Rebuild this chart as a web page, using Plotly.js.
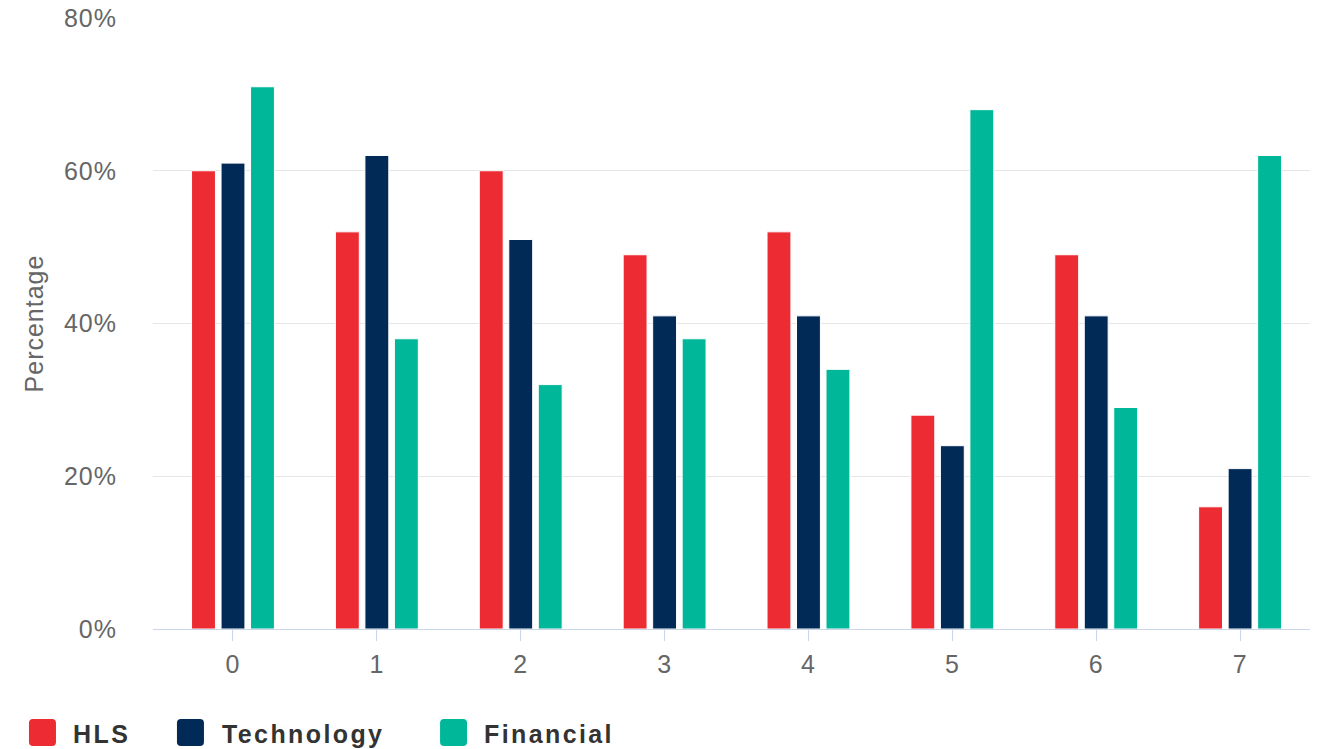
<!DOCTYPE html>
<html>
<head>
<meta charset="utf-8">
<script src="https://cdn.plot.ly/plotly-3.0.1.min.js"></script>
<style>
html,body{margin:0;padding:0;background:#fff;}
#chart{width:1335px;height:749px;}
#chart .xtick text, #chart .ytick text, #chart .g-ytitle text { letter-spacing: 1px; }
#chart .annotation-text { letter-spacing: 2.4px; }
</style>
</head>
<body>
<div id="chart"></div>
<script>
const categories = [0, 1, 2, 3, 4, 5, 6, 7];
const seriesNames = ['HLS', 'Technology', 'Financial'];
const hls = [60, 52, 60, 49, 52, 28, 49, 16];
const technology = [61, 62, 51, 41, 41, 24, 41, 21];
const financial = [71, 38, 32, 38, 34, 68, 29, 62];
const yTicks = [0, 20, 40, 60, 80];
const yTickLabels = ['0%', '20%', '40%', '60%', '80%'];

const COLORS = ['#ec2b33', '#012a56', '#00b899'];
const FONT = 'Liberation Sans, Arial, sans-serif';
const seriesValues = [hls, technology, financial];

const data = seriesNames.map((name, i) => ({
  type: 'bar', name: name, x: categories, y: seriesValues[i],
  marker: {color: COLORS[i], line: {color: '#ffffff', width: 1}},
  hoverinfo: 'y+name', showlegend: false
}));

// custom legend (Highcharts-like rounded squares + bold labels)
const legendSymbolX = [-0.1072, 0.0207, 0.2481];
const legendTextX = [-0.0709, 0.0579, 0.2843];
const legendSymbolY = -0.1915;
const legendTextY = -0.1718;
const rr = 'M4,0 H23 Q27,0 27,4 V23 Q27,27 23,27 H4 Q0,27 0,23 V4 Q0,0 4,0 Z';
const shapes = seriesNames.map((n, i) => ({
  type: 'path', xref: 'paper', yref: 'paper',
  xsizemode: 'pixel', ysizemode: 'pixel',
  xanchor: legendSymbolX[i], yanchor: legendSymbolY,
  path: rr, fillcolor: COLORS[i], line: {width: 0}
}));
const annotations = seriesNames.map((n, i) => ({
  text: n, xref: 'paper', yref: 'paper',
  x: legendTextX[i], y: legendTextY, xanchor: 'left', yanchor: 'middle', align: 'left',
  showarrow: false,
  font: {family: FONT, size: 25, color: '#333333', weight: 'bold'}
}));

const layout = {
  width: 1335, height: 749,
  margin: {l: 153, r: 25, t: 18, b: 120},
  paper_bgcolor: '#fff', plot_bgcolor: '#fff',
  barmode: 'group', bargap: 0.385, bargroupgap: 0.19,
  font: {family: FONT, color: '#666666', size: 25},
  showlegend: false,
  xaxis: {
    range: [-0.556, 7.486], tickvals: categories, ticktext: categories.map(String),
    showgrid: false, zeroline: false, showline: true, linecolor: '#ccd6eb', linewidth: 1,
    ticks: 'outside', ticklen: 11, tickcolor: '#ccd6eb', tickwidth: 1,
    tickfont: {size: 25, color: '#666666'}, ticklabelstandoff: 2
  },
  yaxis: {
    range: [0, 80], tickvals: yTicks, ticktext: yTickLabels,
    showgrid: true, gridcolor: '#e6e6e6', gridwidth: 1, zeroline: false, showline: false,
    ticks: '', tickfont: {size: 25, color: '#666666'}, ticklabelstandoff: 35,
    title: {text: 'Percentage', font: {size: 25, color: '#666666'}, standoff: 16}
  },
  shapes: shapes,
  annotations: annotations
};
Plotly.newPlot('chart', data, layout, {displayModeBar: false, staticPlot: true});
</script>
</body>
</html>
